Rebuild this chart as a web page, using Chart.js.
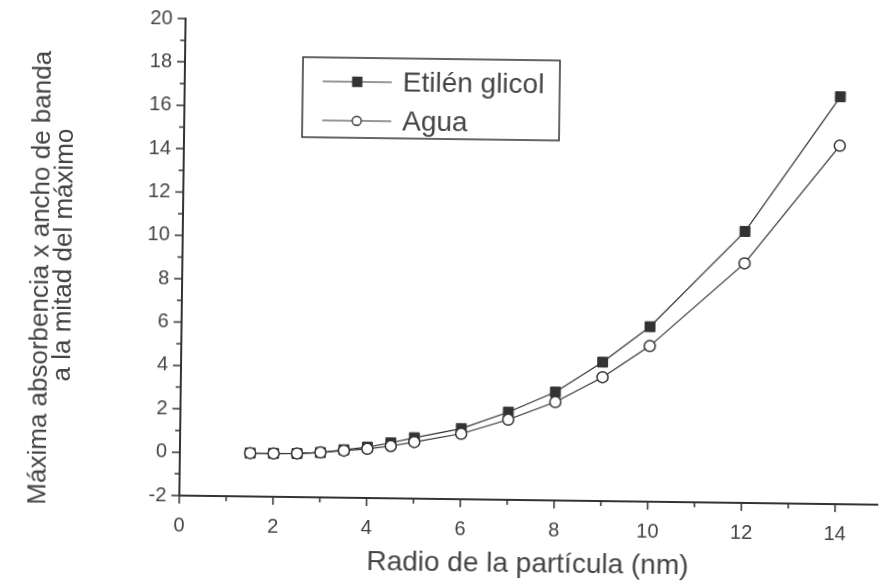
<!DOCTYPE html>
<html lang="es">
<head>
  <meta charset="UTF-8">
  <title>Absorbencia vs radio de partícula</title>
  <script src="https://cdn.jsdelivr.net/npm/chart.js"></script>
  <style>
    html, body { margin: 0; padding: 0; background: #fff; overflow: hidden; }
    #contenedor { width: 888px; height: 585px; transform: rotate(0.75deg); transform-origin: 50% 50%; }
  </style>
</head>
<body>

<div id="contenedor">
  <canvas id="grafico" width="888" height="585"></canvas>
</div>

<script>
  // radio de la partícula (nm)
  const radios = [1.5, 2, 2.5, 3, 3.5, 4, 4.5, 5, 6, 7, 8, 9, 10, 12, 14];
  // máxima absorbencia x ancho de banda a la mitad del máximo
  const etilenGlicol = [0, 0, 0.01, 0.07, 0.21, 0.35, 0.56, 0.81, 1.26, 2.05, 3.0, 4.41, 6.07, 10.52, 16.79];
  const agua = [0, 0, 0.01, 0.07, 0.17, 0.27, 0.41, 0.61, 1.02, 1.70, 2.54, 3.71, 5.18, 9.05, 14.53];

  const etiquetasX = [0, 2, 4, 6, 8, 10, 12, 14];
  const etiquetasY = [-2, 0, 2, 4, 6, 8, 10, 12, 14, 16, 18, 20];

  const tituloY = ["Máxima absorbencia x ancho de banda", "a la mitad del máximo"];
  const tituloX = "Radio de la partícula (nm)";

  const fuente = '"Liberation Sans", Arial, sans-serif';
  const tinta = "#333";
  const texto = "#444";

  const puntos = (ys) => radios.map((x, i) => ({ x: x, y: ys[i] }));

  // marcas de los ejes (mayores en pares, menores en impares), título Y y leyenda
  const extras = {
    id: "extras",
    afterDraw(chart) {
      const ctx = chart.ctx;
      const sx = chart.scales.x;
      const sy = chart.scales.y;
      const area = chart.chartArea;

      ctx.save();
      ctx.strokeStyle = tinta;
      ctx.lineWidth = 1.5;
      ctx.beginPath();
      sx.ticks.forEach(t => {
        const px = sx.getPixelForValue(t.value);
        const largo = t.value % 2 === 0 ? 8 : 5;
        ctx.moveTo(px, area.bottom);
        ctx.lineTo(px, area.bottom + largo);
      });
      sy.ticks.forEach(t => {
        const py = sy.getPixelForValue(t.value);
        const largo = t.value % 2 === 0 ? 8 : 5;
        ctx.moveTo(area.left, py);
        ctx.lineTo(area.left - largo, py);
      });
      ctx.stroke();

      // título del eje Y en dos líneas
      ctx.fillStyle = texto;
      ctx.font = "26px " + fuente;
      ctx.textAlign = "center";
      ctx.textBaseline = "middle";
      const posY = [[41, 283], [63.5, 260]];
      tituloY.forEach((linea, i) => {
        ctx.save();
        ctx.translate(posY[i][0], posY[i][1]);
        ctx.rotate(-Math.PI / 2);
        ctx.fillText(linea, 0, 0);
        ctx.restore();
      });

      // leyenda
      ctx.lineWidth = 1.5;
      ctx.strokeRect(300, 59, 257, 80);
      ctx.textAlign = "left";
      ctx.font = "28px " + fuente;
      const filas = [83, 122];
      chart.data.datasets.forEach((ds, i) => {
        const y = filas[i];
        ctx.lineWidth = 1.2;
        ctx.beginPath();
        ctx.moveTo(320, y);
        ctx.lineTo(389, y);
        ctx.stroke();
        ctx.lineWidth = 1.3;
        ctx.fillStyle = ds.pointBackgroundColor;
        ctx.beginPath();
        if (ds.pointStyle === "rect") {
          ctx.rect(350, y - 4.5, 9, 9);
        } else {
          ctx.arc(354.5, y, 4.5, 0, Math.PI * 2);
        }
        ctx.fill();
        ctx.stroke();
        ctx.fillStyle = texto;
        ctx.fillText(ds.label, 400, y + 1);
      });
      ctx.restore();
    }
  };

  new Chart(document.getElementById("grafico"), {
    type: "scatter",
    data: {
      datasets: [{
        label: "Etilén glicol",
        data: puntos(etilenGlicol),
        showLine: true,
        borderColor: tinta,
        borderWidth: 1.2,
        pointStyle: "rect",
        pointRadius: 7,
        pointBackgroundColor: tinta,
        pointBorderColor: tinta,
        pointBorderWidth: 1,
        order: 1
      }, {
        label: "Agua",
        data: puntos(agua),
        showLine: true,
        borderColor: tinta,
        borderWidth: 1.2,
        pointStyle: "circle",
        pointRadius: 5.5,
        pointBackgroundColor: "#fff",
        pointBorderColor: tinta,
        pointBorderWidth: 1.5,
        order: 0
      }]
    },
    options: {
      responsive: false,
      animation: false,
      devicePixelRatio: 1,
      layout: { padding: { top: 22, right: 0, left: 0, bottom: 0 } },
      plugins: { legend: { display: false }, tooltip: { enabled: false } },
      scales: {
        x: {
          type: "linear",
          min: 0,
          max: 14.9,
          afterFit: s => { s.height = 86; },
          grid: { display: false },
          border: { color: tinta, width: 2 },
          ticks: {
            stepSize: 1,
            includeBounds: false,
            autoSkip: false,
            maxRotation: 0,
            padding: 10,
            color: texto,
            font: { family: fuente, size: 20 },
            callback: v => etiquetasX.includes(v) ? v : ""
          },
          title: {
            display: true,
            text: tituloX,
            color: texto,
            font: { family: fuente, size: 28 },
            padding: { top: 0, bottom: 5 }
          }
        },
        y: {
          min: -2,
          max: 20,
          afterFit: s => { s.width = 182; },
          grid: { display: false },
          border: { color: tinta, width: 2 },
          ticks: {
            stepSize: 1,
            autoSkip: false,
            padding: 5,
            color: texto,
            font: { family: fuente, size: 20 },
            callback: v => etiquetasY.includes(v) ? v : ""
          }
        }
      }
    },
    plugins: [extras]
  });
</script>

</body>
</html>
